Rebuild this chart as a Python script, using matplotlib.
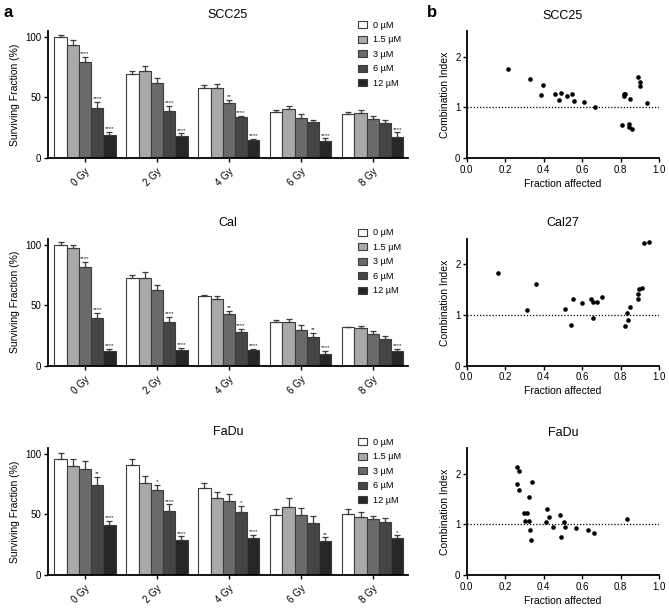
import matplotlib
matplotlib.use("Agg")
import matplotlib.pyplot as plt
from matplotlib.patches import Patch
import numpy as np

plt.rcParams['font.family'] = ['Liberation Sans', 'DejaVu Sans']

doses = ["0 Gy", "2 Gy", "4 Gy", "6 Gy", "8 Gy"]
concs = ["0 µM", "1.5 µM", "3 µM", "6 µM", "12 µM"]
bar_colors = ["#ffffff", "#a9a9a9", "#6a6a6a", "#454545", "#262626"]

# Surviving fraction (%) : rows = concentration, cols = dose
scc25_mean = [[100, 69.3, 57.8, 37.8, 36.0],
              [93.2, 71.8, 57.8, 40.3, 36.8],
              [79.7, 62.2, 45.2, 33.2, 32.1],
              [41.6, 38.9, 33.7, 29.6, 28.8],
              [18.9, 18.4, 15.1, 14.2, 17.6]]
scc25_err = [[2.0, 2.5, 2.2, 2.2, 2.2],
             [4.0, 4.6, 3.0, 2.7, 2.8],
             [4.0, 4.0, 2.7, 3.0, 2.8],
             [4.5, 4.0, 1.4, 2.2, 2.2],
             [2.5, 2.0, 1.0, 2.0, 3.6]]
scc25_stars = [["", "", "", "", ""],
               ["", "", "", "", ""],
               ["****", "", "**", "", ""],
               ["****", "****", "****", "", ""],
               ["****", "****", "****", "****", "****"]]

cal_mean = [[100, 72.4, 57.2, 36.2, 31.8],
            [97.2, 72.4, 55.0, 36.2, 30.9],
            [81.2, 62.7, 42.5, 29.6, 26.0],
            [39.2, 36.2, 27.6, 23.5, 22.4],
            [12.2, 12.7, 12.7, 9.4, 12.2]]
cal_err = [[2.0, 2.2, 1.6, 1.6, 0.5],
           [2.5, 5.0, 3.0, 2.8, 1.7],
           [4.4, 4.2, 2.8, 3.8, 2.5],
           [4.2, 4.0, 3.0, 3.3, 2.5],
           [2.0, 2.0, 1.0, 2.8, 2.0]]
cal_stars = [["", "", "", "", ""],
             ["", "", "", "", ""],
             ["****", "", "**", "", ""],
             ["****", "****", "****", "**", ""],
             ["****", "****", "****", "****", "****"]]

fadu_mean = [[95.6, 90.9, 71.6, 49.3, 50.1],
             [90.1, 76.0, 63.4, 56.5, 47.7],
             [87.3, 70.0, 61.4, 49.3, 46.0],
             [74.1, 52.9, 51.8, 43.3, 43.5],
             [41.0, 29.2, 30.3, 27.8, 30.3]]
fadu_err = [[5.0, 5.2, 4.2, 5.0, 4.2],
            [5.8, 6.0, 4.9, 7.4, 4.6],
            [7.0, 4.4, 5.8, 5.8, 3.0],
            [6.9, 5.5, 5.5, 5.7, 3.9],
            [3.4, 2.8, 2.7, 3.3, 2.5]]
fadu_stars = [["", "", "", "", ""],
              ["", "", "", "", ""],
              ["", "*", "", "", ""],
              ["**", "****", "*", "", ""],
              ["****", "****", "****", "**", "*"]]

bar_titles = ["SCC25", "Cal", "FaDu"]

# Combination index scatter: fraction affected (Fa), combination index (CI)
scc25_fa = [0.213, 0.331, 0.385, 0.395, 0.458, 0.482, 0.492, 0.520, 0.549, 0.556,
            0.610, 0.669, 0.809, 0.816, 0.820, 0.825, 0.842, 0.846, 0.847, 0.860,
            0.891, 0.901, 0.903, 0.938]
scc25_ci = [1.76, 1.56, 1.24, 1.45, 1.26, 1.15, 1.29, 1.23, 1.26, 1.12,
            1.10, 1.01, 0.65, 1.22, 1.26, 1.27, 0.61, 0.68, 1.17, 0.58,
            1.60, 1.50, 1.42, 1.09]
cal27_fa = [0.163, 0.314, 0.359, 0.511, 0.542, 0.555, 0.601, 0.645, 0.655, 0.655,
            0.676, 0.704, 0.825, 0.835, 0.841, 0.847, 0.891, 0.893, 0.896, 0.910,
            0.924, 0.950]
cal27_ci = [1.835, 1.10, 1.62, 1.12, 0.81, 1.31, 1.23, 1.31, 1.25, 0.94,
            1.26, 1.35, 0.79, 1.05, 0.91, 1.16, 1.31, 1.42, 1.52, 1.54,
            2.42, 2.44]
fadu_fa = [0.263, 0.274, 0.263, 0.274, 0.338, 0.324, 0.298, 0.315, 0.305, 0.324,
           0.328, 0.334, 0.419, 0.412, 0.430, 0.451, 0.484, 0.492, 0.506, 0.511,
           0.568, 0.629, 0.660, 0.832]
fadu_ci = [2.14, 2.06, 1.79, 1.68, 1.84, 1.54, 1.22, 1.22, 1.06, 1.07,
           0.89, 0.70, 1.30, 1.05, 1.15, 0.95, 1.18, 0.75, 1.05, 0.96,
           0.93, 0.89, 0.83, 1.10]
sc_titles = ["SCC25", "Cal27", "FaDu"]

W, H = 669, 608
fig = plt.figure(figsize=(W / 100, H / 100), dpi=100)

bar_bottoms_px = [158.0, 365.7, 575.0]
ax_h = 0.209
tick_fs = 7
lab_fs = 7.5
title_fs = 9
spine_lw = 1.3

bar_sets = [(scc25_mean, scc25_err, scc25_stars),
            (cal_mean, cal_err, cal_stars),
            (fadu_mean, fadu_err, fadu_stars)]
sc_sets = [(scc25_fa, scc25_ci), (cal27_fa, cal27_ci), (fadu_fa, fadu_ci)]

def style_axes(ax):
    for s in ["top", "right"]:
        ax.spines[s].set_visible(False)
    for s in ["left", "bottom"]:
        ax.spines[s].set_linewidth(spine_lw)
    ax.tick_params(axis="both", labelsize=tick_fs, width=1.0, length=3, pad=1.5)

bw = 0.17
x = np.arange(len(doses))
for r in range(3):
    mean, err, stars = bar_sets[r]
    bottom = 1 - bar_bottoms_px[r] / H
    ax = fig.add_axes([47.6 / W, bottom, (408 - 47.6) / W, ax_h])
    style_axes(ax)
    for i in range(len(concs)):
        pos = x + (i - 2) * bw
        m = np.array(mean[i]); e = np.array(err[i])
        ax.bar(pos, m, width=bw, color=bar_colors[i], edgecolor="#3c3c3c",
               linewidth=0.8, label=concs[i], zorder=2)
        ax.errorbar(pos, m, yerr=[np.zeros_like(e), e], fmt="none",
                    ecolor="#3c3c3c", elinewidth=0.9, capsize=2.5,
                    capthick=0.9, zorder=3)
        for j in range(len(doses)):
            if stars[i][j]:
                ax.text(pos[j], m[j] + e[j] + 0.6, stars[i][j], ha="center",
                        va="bottom", fontsize=4.4, color="#222222", zorder=4)
    ax.set_xlim(-0.52, 4.49)
    ax.set_ylim(0, 105)
    ax.set_yticks([0, 50, 100])
    ax.set_xticks(x)
    ax.set_xticklabels(doses, rotation=45, ha="right", va="top",
                       rotation_mode="anchor")
    ax.tick_params(axis="x", pad=3)
    ax.set_ylabel("Surviving Fraction (%)", fontsize=lab_fs, labelpad=4)
    ax.set_title(bar_titles[r], fontsize=title_fs, pad=9)
    handles = [Patch(facecolor=bar_colors[i], edgecolor="#3c3c3c", linewidth=0.8)
               for i in range(len(concs))]
    top_px = bar_bottoms_px[r] - 105 * 1.212
    ax.legend(handles, concs, loc="upper left",
              bbox_to_anchor=(358 / W, 1 - (top_px - 10) / H),
              bbox_transform=fig.transFigure, frameon=False, fontsize=6.6,
              borderpad=0, borderaxespad=0, handlelength=1.0,
              handleheight=0.8, handletextpad=0.65, labelspacing=0.6)

for r in range(3):
    fa, ci = sc_sets[r]
    bottom = 1 - (bar_bottoms_px[r] + 0.3) / H
    ax = fig.add_axes([466.7 / W, bottom, (659 - 466.7) / W, ax_h])
    style_axes(ax)
    ax.axhline(1, color="black", linestyle=(0, (1, 1.5)), linewidth=0.9, zorder=1)
    ax.scatter(fa, ci, s=11, color="black", zorder=3, linewidths=0)
    ax.set_xlim(0, 1)
    ax.set_ylim(0, 2.5)
    ax.set_xticks([0, 0.2, 0.4, 0.6, 0.8, 1.0])
    ax.set_xticklabels(["0.0", "0.2", "0.4", "0.6", "0.8", "1.0"])
    ax.set_yticks([0, 1, 2])
    ax.set_xlabel("Fraction affected", fontsize=lab_fs, labelpad=3)
    ax.set_ylabel("Combination Index", fontsize=lab_fs, labelpad=4)
    ax.set_title(sc_titles[r], fontsize=title_fs, pad=9)

fig.text(3 / W, 1 - 16.7 / H, "a", fontsize=12, fontweight="bold",
         ha="left", va="baseline")
fig.text(427 / W, 1 - 16.7 / H, "b", fontsize=12, fontweight="bold",
         ha="left", va="baseline")

fig.savefig("out.png", dpi=100)
